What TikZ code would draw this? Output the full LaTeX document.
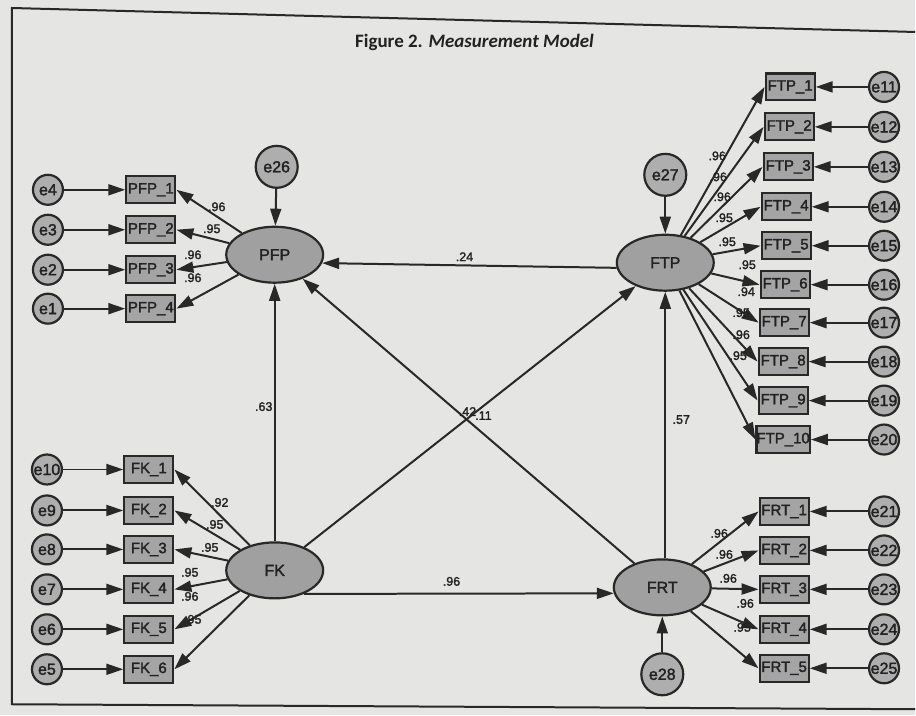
\documentclass[tikz,border=0pt]{standalone}
\usepackage{fontspec}
\setmainfont{Liberation Sans}
\newfontfamily\heavyfont{Liberation Sans}[FakeBold=2]
\newfontfamily\titlefont{Carlito}
\usetikzlibrary{shapes.geometric,arrows.meta}
\newcommand\setfs[1]{\fontsize{#1}{#1}\selectfont}
\definecolor{paper}{HTML}{E5E5E3}
\definecolor{ln}{HTML}{282828}
\definecolor{boxfill}{HTML}{A4A4A4}
\definecolor{ellfill}{HTML}{A0A0A0}
\definecolor{errfill}{HTML}{AEAEAE}
\definecolor{ink}{HTML}{222222}
\tikzset{
  obs/.style={draw=ln, fill=boxfill, line width=2.2pt, minimum width=49pt,
    minimum height=27pt, inner sep=0pt, text=ink, font=\heavyfont\setfs{15}},
  lat/.style={ellipse, draw=ln, fill=ellfill, line width=2.2pt, minimum width=97pt,
    minimum height=56pt, inner sep=0pt, text=ink, font=\heavyfont\setfs{16}},
  err/.style={circle, draw=ln, fill=errfill, line width=2.2pt, minimum size=30pt,
    inner sep=0pt, text=ink, font=\heavyfont\setfs{16}},
  errbig/.style={err, minimum size=42pt},
  reg/.style={line width=2pt, draw=ln, -{Triangle[length=17pt,width=11pt]}},
  coef/.style={inner sep=0pt, text=ink, font=\heavyfont\setfs{12.5}},
  frame/.style={line width=2pt, draw=ln}
}
\begin{document}
\begin{tikzpicture}[x=1pt,y=-1pt]
% paper and frame
\fill[paper] (0,0) rectangle (916,716);
\coordinate (tl) at (12,8);
\coordinate (tr) at (916,32);
\coordinate (bl) at (12,705);
\coordinate (br) at (916,710);
\draw[frame] (tr) -- (tl) -- (bl) -- (br);
\node[font=\titlefont\setfs{19}, text=ink] (title) at (475,42)
  {\textbf{Figure 2.} \textbf{\textit{Measurement Model}}};

% latent constructs
\node[lat] (PFP) at (275,255) {PFP};
\node[lat] (FTP) at (666,263) {FTP};
\node[lat] (FK)  at (275,571) {FK};
\node[lat] (FRT) at (663,588) {FRT};

% disturbances
\node[errbig] (e26) at (277,167) {e26};
\node[errbig] (e27) at (666,175) {e27};
\node[errbig] (e28) at (663,675) {e28};

% PFP indicators
\foreach \i/\y/\e in {1/190/e4, 2/230/e3, 3/270/e2, 4/309/e1}{
  \node[obs] (PFP\i) at (151,\y) {PFP\_\i};
  \node[err] (\e) at (48,\y) {\e};
  \draw[reg] (\e) -- (PFP\i);
  \draw[reg] (PFP) -- (PFP\i.east);
}

% FK indicators
\foreach \i/\y/\e in {1/470/e10, 2/511/e9, 3/550/e8, 4/590/e7, 5/630/e6, 6/670/e5}{
  \node[obs] (FK\i) at (149,\y) {FK\_\i};
  \node[err] (\e) at (47,\y) {\e};
  \draw[reg] (\e) -- (FK\i);
  \draw[reg] (FK) -- (FK\i.east);
}

% FTP indicators
\foreach \i/\x/\y/\e in {1/791/87/e11, 2/790/127/e12, 3/789/167/e13, 4/787/207/e14,
  5/787/246/e15, 6/786/285/e16, 7/785/323/e17, 8/784/362/e18, 9/784/401/e19, 10/784/440/e20}{
  \node[obs] (FTP\i) at (\x,\y) {FTP\_\i};
  \node[err] (\e) at (885,\y) {\e};
  \draw[reg] (\e) -- (FTP\i);
  \draw[reg] (FTP) -- (FTP\i.west);
}

% FRT indicators
\foreach \i/\y/\e in {1/512/e21, 2/551/e22, 3/590/e23, 4/630/e24, 5/669/e25}{
  \node[obs] (FRT\i) at (785,\y) {FRT\_\i};
  \node[err] (\e) at (885,\y) {\e};
  \draw[reg] (\e) -- (FRT\i);
  \draw[reg] (FRT) -- (FRT\i.west);
}

% structural paths
\draw[reg] (e26) -- (PFP);
\draw[reg] (e27) -- (FTP);
\draw[reg] (e28) -- (FRT);
\draw[reg] (FTP.186) -- (PFP.-10);
\draw[reg] (FK) -- (PFP);
\draw[reg] (FK) -- (FTP);
\draw[reg] (FRT) -- (PFP);
\draw[reg] (FRT.north -| FTP.south) -- (FTP.south);
\draw[reg] (FK.-39) -- (FRT.187);

% loadings
\foreach \t/\x/\y in {.96/217/207, .95/212/229, .96/193/255, .96/193/278}
  \node[coef] at (\x,\y) {\t};
\foreach \t/\x/\y in {.92/220/503, .95/215/525, .95/210/548, .95/190/573, .96/190/597, .95/193/620}
  \node[coef] at (\x,\y) {\t};
\foreach \t/\x/\y in {.96/718/156, .96/719/177, .96/723/197, .95/725/218, .95/728/242,
  .95/748/265, .94/747/292, .95/742/313, .96/742/335, .95/739/356}
  \node[coef] at (\x,\y) {\t};
\foreach \t/\x/\y in {.96/720/534, .96/725/555, .96/729/579, .96/746/604, .95/743/628}
  \node[coef] at (\x,\y) {\t};

% path coefficients
\node[coef] at (465,257) {.24};
\node[coef] at (264,407) {.63};
\node[coef] at (468,412) {.42};
\node[coef] at (484,416) {.11};
\node[coef] at (682,420) {.57};
\node[coef] at (452,582) {.96};
\end{tikzpicture}
\end{document}
